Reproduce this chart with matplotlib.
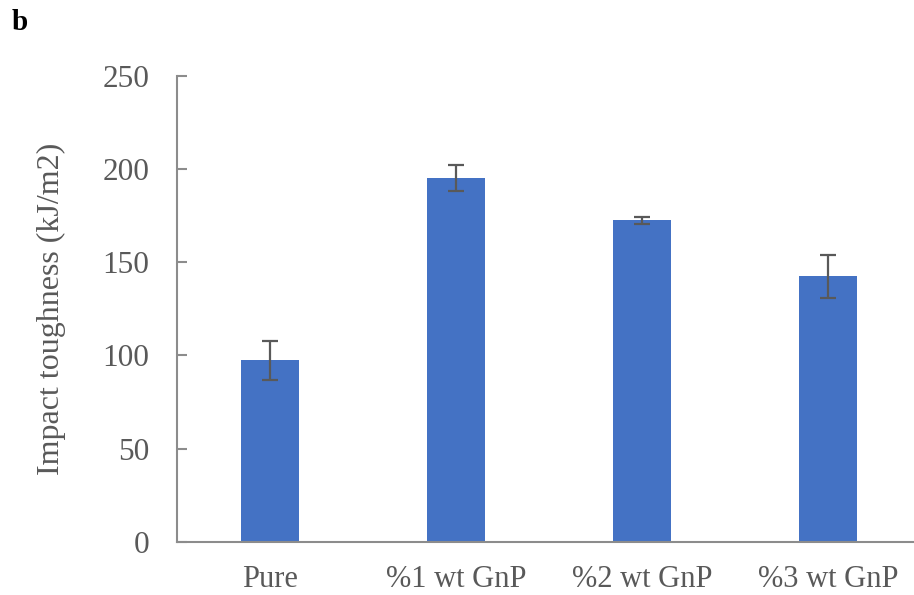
import matplotlib
matplotlib.use("Agg")
import matplotlib.pyplot as plt

categories = ["Pure", "%1 wt GnP", "%2 wt GnP", "%3 wt GnP"]
values = [97.5, 195.0, 172.5, 142.5]
errors = [10.5, 7.0, 1.9, 11.5]
yticks = [0, 50, 100, 150, 200, 250]

plt.rcParams['font.family'] = ['Liberation Serif', 'DejaVu Serif']

W, H = 914, 595
fig = plt.figure(figsize=(W / 100, H / 100), dpi=100)
left, right = 177, 921
bottom, top = 541.7, 76
ax = fig.add_axes([left / W, 1 - bottom / H, (right - left) / W, (bottom - top) / H])

tc = '#595959'
ax.bar(range(len(categories)), values, width=0.31, color='#4472C4', zorder=2)
ax.errorbar(range(len(categories)), values, yerr=errors, fmt='none',
            ecolor=tc, elinewidth=1.6, capsize=6, capthick=1.6, zorder=3)

ax.set_xlim(-0.5, 3.5)
ax.set_ylim(0, 250)
ax.set_yticks(yticks)
ax.set_xticks(range(len(categories)))
ax.set_xticklabels(categories)

for s in ['top', 'right']:
    ax.spines[s].set_visible(False)
for s in ['left', 'bottom']:
    ax.spines[s].set_color('#8c8c8c')
    ax.spines[s].set_linewidth(1.5)

ax.tick_params(axis='y', direction='in', length=7, width=1.5, color='#8c8c8c',
               labelsize=22.5, labelcolor=tc, pad=20)
ax.tick_params(axis='x', length=0, labelsize=22, labelcolor=tc, pad=17)
ax.set_ylabel("Impact toughness (kJ/m2)", fontsize=23, color=tc)
ax.yaxis.set_label_coords(-0.149, 0.5)

fig.text(12 / W, 1 - 22 / H, "b", fontsize=21, fontweight='bold', color='black',
         va='center', ha='left')

fig.savefig("out.png", dpi=100)
